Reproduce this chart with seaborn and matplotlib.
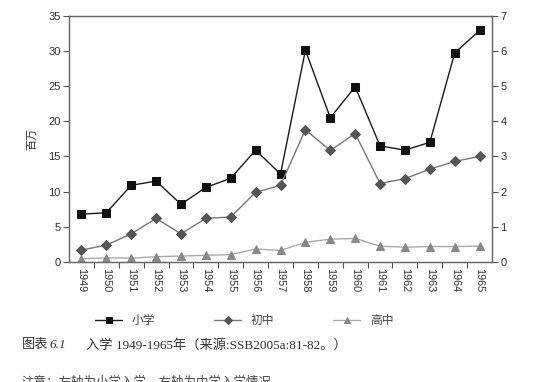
import matplotlib
matplotlib.use("Agg")
import matplotlib.pyplot as plt
import seaborn as sns
import pandas as pd

# 入学人数（百万）
years = list(range(1949, 1966))
primary = [6.8, 7.0, 10.9, 11.5, 8.2, 10.6, 11.9, 15.9, 12.5, 30.1,
           20.5, 24.9, 16.5, 15.9, 17.0, 29.7, 32.9]
junior = [0.34, 0.48, 0.80, 1.24, 0.80, 1.24, 1.28, 1.98, 2.18, 3.76,
          3.17, 3.65, 2.23, 2.37, 2.64, 2.86, 3.00]
senior = [0.09, 0.12, 0.11, 0.15, 0.17, 0.19, 0.21, 0.37, 0.33, 0.56,
          0.65, 0.67, 0.45, 0.42, 0.44, 0.44, 0.45]
names = ["小学", "初中", "高中"]

df = pd.DataFrame({"year": years, "小学": primary, "初中": junior, "高中": senior})

sns.set_style("white")
plt.rcParams["font.family"] = ["Liberation Sans", "Noto Sans CJK SC", "DejaVu Sans"]

fig = plt.figure(figsize=(5.45, 3.82), dpi=100)
ax = fig.add_axes([0.1266, 0.3141, 0.7762, 0.6448])
ax2 = ax.twinx()

sns.lineplot(data=df, x="year", y="小学", ax=ax, color="#1a1a1a", lw=1.0,
             marker="s", markersize=5.5, markeredgecolor="#111111",
             markerfacecolor="#111111", label="小学", legend=False)
sns.lineplot(data=df, x="year", y="初中", ax=ax2, color="#777777", lw=1.0,
             marker="D", markersize=5, markeredgecolor="#555555",
             markerfacecolor="#555555", label="初中", legend=False)
sns.lineplot(data=df, x="year", y="高中", ax=ax2, color="#aaaaaa", lw=1.0,
             marker="^", markersize=5.5, markeredgecolor="#888888",
             markerfacecolor="#888888", label="高中", legend=False)

ax.set_xlim(years[0] - 0.5, years[-1] + 0.5)
ax.set_ylim(0, 35)
ax2.set_ylim(0, 7)
ax.set_yticks(range(0, 36, 5))
ax2.set_yticks(range(0, 8))

# 刻度在类别之间，标签在中间
ax.set_xticks([y - 0.5 for y in years[1:]])
ax.set_xticklabels([])
ax.set_xticks(years, minor=True)
ax.set_xticklabels([str(y) for y in years], minor=True, rotation=-90,
                   fontsize=7.8, color="#333333")
ax.tick_params(axis="x", which="major", direction="out", length=4,
               color="#555555", bottom=True)
ax.tick_params(axis="x", which="minor", length=0, pad=4, bottom=True)
ax.tick_params(axis="y", direction="out", length=4, color="#555555",
               labelsize=8, labelcolor="#333333", left=True, pad=2)
ax2.tick_params(axis="y", direction="out", length=4, color="#555555",
                labelsize=8, labelcolor="#333333", right=True, pad=2)

ax.set_xlabel("")
ax.set_ylabel("百万", fontsize=8, color="#333333", labelpad=8)
ax2.set_ylabel("")

for a in (ax, ax2):
    for s in a.spines.values():
        s.set_color("#666666")
        s.set_linewidth(0.9)

handles = ax.get_lines()[:1] + ax2.get_lines()[:2]
fig.legend(handles, names, loc="center", bbox_to_anchor=(0.448, 0.16),
           ncol=3, frameon=False, fontsize=8.5, handlelength=2.3,
           columnspacing=5.0, labelcolor="#444444", markerscale=0.85)

fig.text(0.04, 0.097, "图表", fontsize=9.5, color="#333333", va="center")
fig.text(0.091, 0.097, "6.1", fontsize=9.5, color="#333333", va="center",
         style="italic", family=["Liberation Serif", "DejaVu Serif"])
fig.text(0.158, 0.097, "入学 1949-1965年（来源:SSB2005a:81-82。）",
         fontsize=9.5, color="#333333", va="center",
         family=["Liberation Serif", "Noto Sans CJK SC", "DejaVu Sans"])
fig.text(0.04, 0.016, "注意：左轴为小学入学，右轴为中学入学情况",
         fontsize=9, color="#444444", va="top")

fig.savefig("out.png", dpi=100)
